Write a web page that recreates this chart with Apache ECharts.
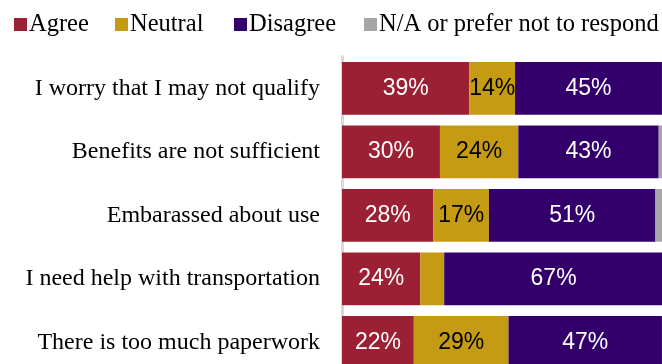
<!DOCTYPE html>
<html>
<head>
<meta charset="utf-8">
<script src="https://cdn.jsdelivr.net/npm/echarts@6/dist/echarts.min.js"></script>
<style>
  html, body { margin: 0; padding: 0; background: #ffffff; }
  #chart { width: 662px; height: 364px; }
</style>
</head>
<body>
<div id="chart"></div>
<script>
// Survey reasons (top to bottom)
const categories = [
  'I worry that I may not qualify',
  'Benefits are not sufficient',
  'Embarassed about use',
  'I need help with transportation',
  'There is too much paperwork'
];

// Share of respondents, percent
const agree    = [39, 30, 28, 24, 22];
const neutral  = [14, 24, 17, 7.3, 29];
const disagree = [45, 43, 51, 67, 47];
const noAnswer = [2, 3, 4, 2, 2];

const seriesNames = ['Agree', 'Neutral', 'Disagree', 'N/A or prefer not to respond'];
const colors = ['#9b2033', '#c69b14', '#33006b', '#a6a6a6'];
const labelColors = ['#ffffff', '#000000', '#ffffff', '#000000'];
const legendLeft = [9, 110, 229, 359];

const serif = '"Liberation Serif", "DejaVu Serif", serif';
const sans = '"Liberation Sans", Arial, sans-serif';

function makeSeries(name, data, idx, showLabel) {
  return {
    name: name,
    type: 'bar',
    stack: 'total',
    data: data,
    barCategoryGap: '17%',
    itemStyle: { color: colors[idx] },
    label: {
      show: showLabel,
      position: 'inside',
      color: labelColors[idx],
      fontFamily: sans,
      fontSize: 23,
      formatter: p => (p.value >= 10 ? Math.round(p.value) + '%' : '')
    },
    emphasis: { disabled: true }
  };
}

const chart = echarts.init(document.getElementById('chart'), null, { renderer: 'canvas' });

chart.setOption({
  animation: false,
  backgroundColor: '#ffffff',
  legend: seriesNames.map((n, i) => ({
    data: [n],
    left: legendLeft[i],
    top: 7,
    icon: 'rect',
    itemWidth: 13,
    itemHeight: 13,
    itemGap: 4,
    selectedMode: false,
    textStyle: { fontFamily: serif, fontSize: 24.5, color: '#000000', padding: [0, 0, 0, -3] }
  })),
  // the plot runs a little past the right and bottom edges of the canvas
  grid: {
    left: 342,
    top: 56.6,
    width: 326.5,
    height: 317.5,
    outerBoundsMode: 'none',
    containLabel: false
  },
  xAxis: {
    type: 'value',
    min: 0,
    max: 100,
    show: false
  },
  yAxis: {
    type: 'category',
    data: categories,
    inverse: true,
    axisLine: { show: true, lineStyle: { color: '#d9d9d9', width: 3 } },
    axisTick: { show: false },
    axisLabel: {
      margin: 22,
      fontFamily: serif,
      fontSize: 24,
      color: '#000000'
    },
    splitLine: { show: false }
  },
  series: [
    makeSeries(seriesNames[0], agree, 0, true),
    makeSeries(seriesNames[1], neutral, 1, true),
    makeSeries(seriesNames[2], disagree, 2, true),
    makeSeries(seriesNames[3], noAnswer, 3, false)
  ]
});
</script>
</body>
</html>
